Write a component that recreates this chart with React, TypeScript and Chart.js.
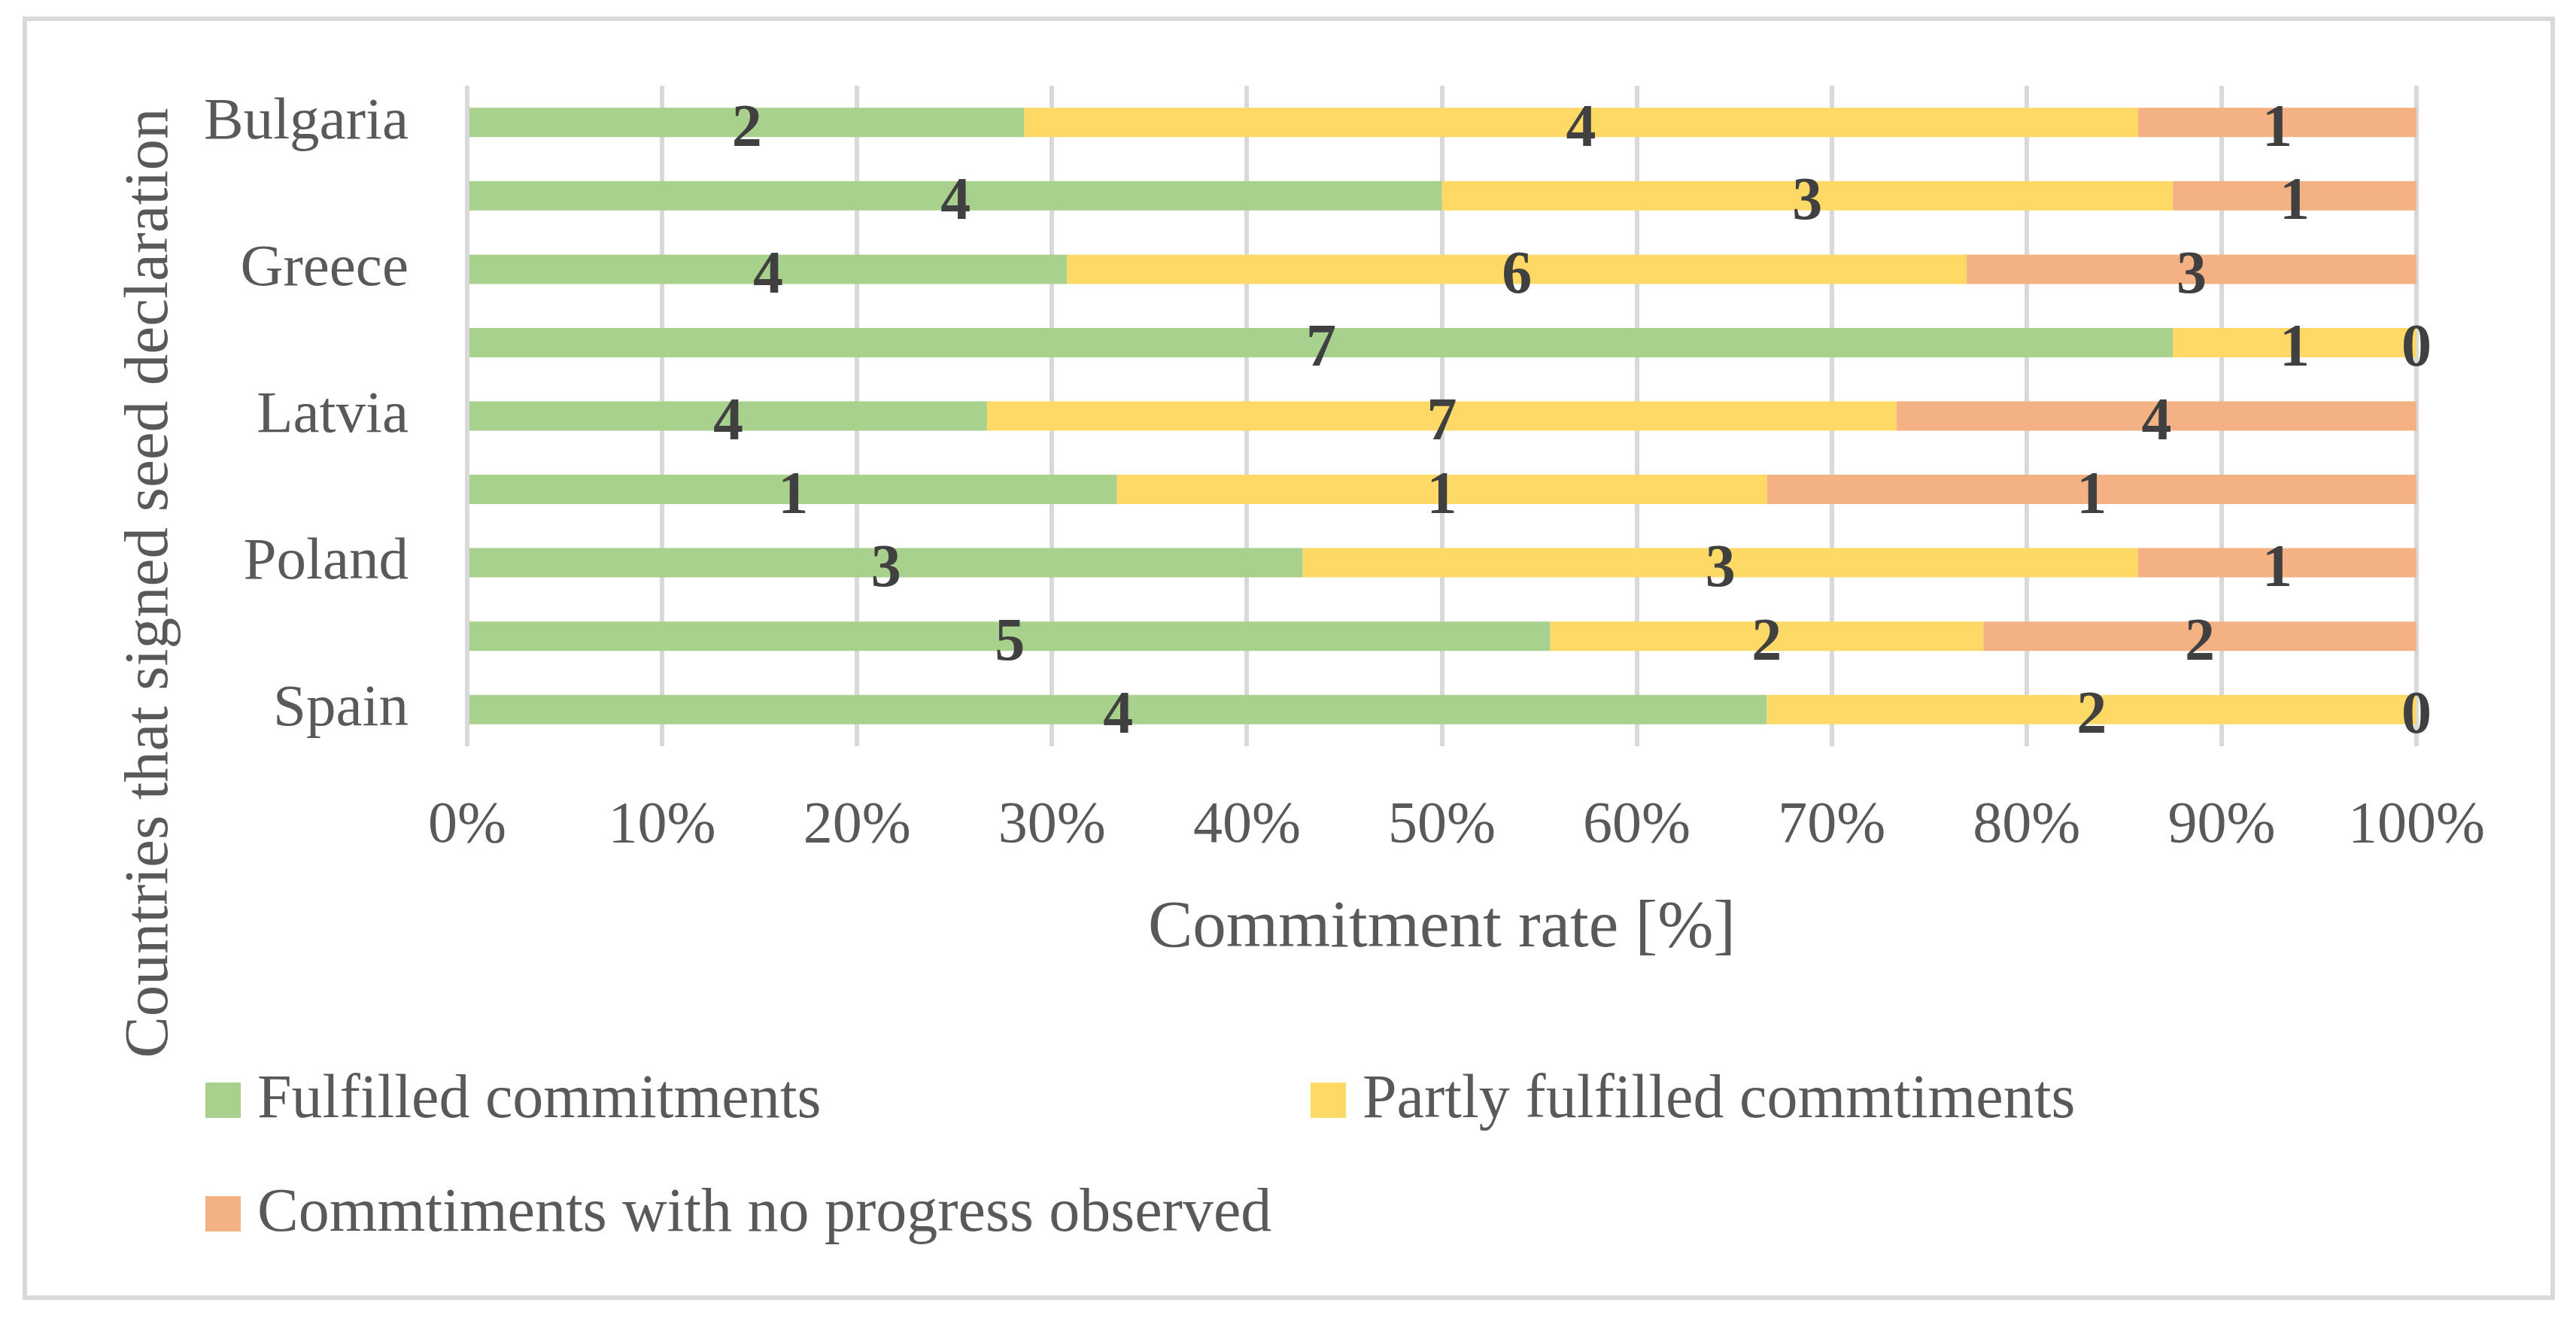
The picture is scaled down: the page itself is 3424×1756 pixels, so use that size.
import React, { useEffect, useRef } from "react";
import { Chart, registerables } from "chart.js";

Chart.register(...registerables);

// ---- data ----
const categories = ["Bulgaria", "", "Greece", "", "Latvia", "", "Poland", "", "Spain"];
const fulfilled = [2, 4, 4, 7, 4, 1, 3, 5, 4];
const partly = [4, 3, 6, 1, 7, 1, 3, 2, 2];
const noProgress = [1, 1, 3, 0, 4, 1, 1, 2, 0];
const seriesNames = [
  "Fulfilled commitments",
  "Partly fulfilled commtiments",
  "Commtiments with no progress observed",
];
const seriesColors = ["#A9D18E", "#FFD966", "#F4B183"];
const xTitle = "Commitment rate [%]";
const yTitle = "Countries that signed seed declaration";

const W = 3424;
const H = 1756;
const FONT = "'Liberation Serif', 'Times New Roman', serif";
const TEXT = "#595959";

const counts = [fulfilled, partly, noProgress];
const totals = categories.map((_, i) => fulfilled[i] + partly[i] + noProgress[i]);
const pct = counts.map((s) => s.map((v, i) => (v / totals[i]) * 100));

const decor = {
  id: "decor",
  beforeDraw(chart: any) {
    const ctx = chart.ctx;
    ctx.save();
    ctx.fillStyle = "#ffffff";
    ctx.fillRect(0, 0, W, H);
    ctx.strokeStyle = "#D9D9D9";
    ctx.lineWidth = 6;
    ctx.strokeRect(33, 25, 3360, 1700);
    ctx.restore();
  },
  afterDatasetsDraw(chart: any) {
    const ctx = chart.ctx;
    ctx.save();
    ctx.font = `bold 80px ${FONT}`;
    ctx.fillStyle = "#404040";
    ctx.textAlign = "center";
    ctx.textBaseline = "alphabetic";
    chart.data.datasets.forEach((ds: any, di: number) => {
      const meta = chart.getDatasetMeta(di);
      meta.data.forEach((el: any, i: number) => {
        const x = (el.x + el.base) / 2;
        const y = el.y + 0.338 * 80 + 4;
        ctx.fillText(String(counts[di][i]), x, y);
      });
    });
    ctx.restore();
  },
  afterDraw(chart: any) {
    const ctx = chart.ctx;
    const ca = chart.chartArea;
    ctx.save();
    ctx.fillStyle = TEXT;
    // x title
    ctx.font = `89px ${FONT}`;
    ctx.textAlign = "center";
    ctx.textBaseline = "alphabetic";
    ctx.fillText(xTitle, (ca.left + ca.right) / 2, ca.bottom + 266);
    // y title
    ctx.save();
    ctx.translate(222, 775);
    ctx.rotate(-Math.PI / 2);
    ctx.font = `83px ${FONT}`;
    ctx.fillText(yTitle, 0, 0);
    ctx.restore();
    // legend
    const items = [
      { x: 273, y: 1439 },
      { x: 1742, y: 1439 },
      { x: 273, y: 1590 },
    ];
    ctx.font = `82px ${FONT}`;
    ctx.textAlign = "left";
    chart.data.datasets.forEach((ds: any, i: number) => {
      const it = items[i];
      ctx.fillStyle = ds.backgroundColor;
      ctx.fillRect(it.x, it.y, 47, 47);
      ctx.fillStyle = TEXT;
      ctx.fillText(ds.label, it.x + 69, it.y + 46);
    });
    ctx.restore();
  },
};

export default function App() {
  const ref = useRef<HTMLCanvasElement | null>(null);
  useEffect(() => {
    document.body.style.margin = "0";
    const canvas = ref.current!;
    const chart = new Chart(canvas, {
      type: "bar",
      data: {
        labels: categories,
        datasets: seriesNames.map((name, i) => ({
          label: name,
          data: pct[i],
          backgroundColor: seriesColors[i],
          borderWidth: 0,
          categoryPercentage: 1,
          barPercentage: 0.4,
        })),
      },
      options: {
        indexAxis: "y",
        animation: false,
        responsive: false,
        devicePixelRatio: 1,
        layout: { padding: { left: 0, top: 114, right: 212, bottom: 564 } },
        plugins: {
          legend: { display: false },
          tooltip: { enabled: false },
          title: { display: false },
        },
        scales: {
          x: {
            stacked: true,
            min: 0,
            max: 100,
            ticks: {
              stepSize: 10,
              callback: (v: any) => `${v}%`,
              font: { family: FONT, size: 78 },
              color: TEXT,
              padding: 60,
            },
            grid: { color: "#D9D9D9", lineWidth: 6, drawTicks: false },
            border: { display: false },
            afterFit: (s: any) => {
              s.height = 200;
              s.paddingLeft = 0;
              s.paddingRight = 0;
            },
          },
          y: {
            stacked: true,
            ticks: {
              autoSkip: false,
              font: { family: FONT, size: 79 },
              color: TEXT,
              padding: 78,
            },
            grid: { display: false, drawTicks: false },
            border: { display: false },
            afterFit: (s: any) => {
              s.width = 621;
              s.paddingTop = 0;
              s.paddingBottom = 0;
            },
          },
        },
      },
      plugins: [decor],
    } as any);
    return () => chart.destroy();
  }, []);
  return (
    <div style={{ width: W, height: H, position: "relative" }}>
      <canvas ref={ref} width={W} height={H} style={{ display: "block", width: W, height: H }} />
    </div>
  );
}
